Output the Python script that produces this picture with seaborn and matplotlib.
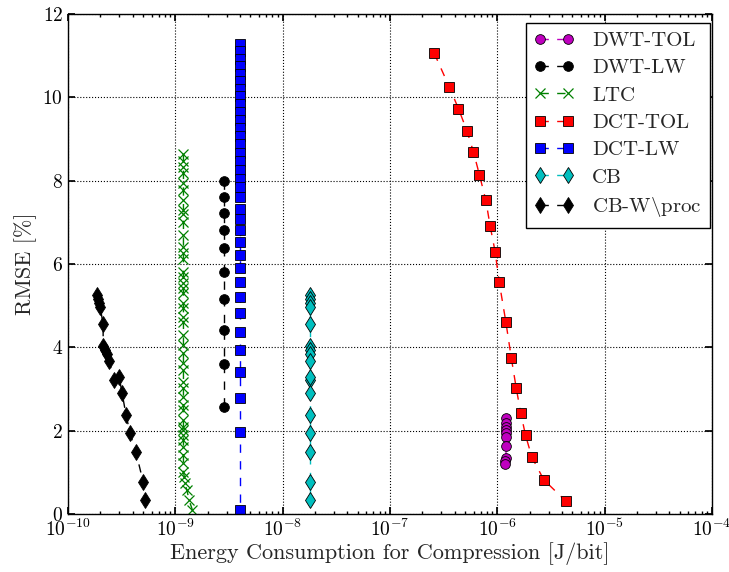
import matplotlib
matplotlib.use("Agg")
import matplotlib.pyplot as plt
import seaborn as sns
import pandas as pd

# RMSE levels shared by the CB and CB-W\proc runs
cb_rmse = [5.25, 5.15, 5.07, 4.97, 4.57, 4.03, 3.94, 3.84, 3.68, 3.22, 3.30,
           2.90, 2.38, 1.94, 1.48, 0.78, 0.34]
cb_energy = [1.78e-8] * 17
cbw_energy = [1.86e-10, 1.90e-10, 1.94e-10, 1.99e-10, 2.12e-10, 2.13e-10,
              2.21e-10, 2.31e-10, 2.41e-10, 2.68e-10, 2.99e-10, 3.19e-10,
              3.47e-10, 3.78e-10, 4.30e-10, 5.00e-10, 5.22e-10]

ltc_rmse = [8.64, 8.48, 8.33, 8.18, 7.94, 7.78, 7.54, 7.30, 7.20, 7.02, 6.70,
            6.42, 6.26, 6.11, 5.82, 5.70, 5.54, 5.42, 5.30, 5.06, 4.94, 4.74,
            4.62, 4.30, 4.06, 3.86, 3.62, 3.46, 3.18, 3.02, 2.82, 2.62, 2.50,
            2.26, 2.10, 2.02, 1.90, 1.78, 1.62, 1.42, 1.22, 1.02, 0.90, 0.74,
            0.58, 0.34, 0.10]
ltc_energy = [1.19e-9] * 42 + [1.21e-9, 1.22e-9, 1.28e-9, 1.34e-9, 1.44e-9]

dwt_lw_rmse = [8.00, 7.61, 7.23, 6.82, 6.38, 5.81, 5.15, 4.42, 3.60, 2.57]
dwt_lw_energy = [2.84e-9] * 10

dct_lw_rmse = [11.29, 11.11, 10.93, 10.75, 10.57, 10.39, 10.21, 10.03, 9.84,
               9.65, 9.46, 9.26, 9.07, 8.87, 8.66, 8.47, 8.26, 8.05, 7.84,
               7.60, 7.33, 7.07, 6.82, 6.53, 6.22, 5.90, 5.57, 5.21, 4.82,
               4.38, 3.94, 3.42, 2.78, 1.98, 0.10]
dct_lw_energy = [4.0e-9] * 35

dct_tol_rmse = [11.06, 10.24, 9.73, 9.20, 8.69, 8.14, 7.53, 6.91, 6.30, 5.57,
                4.61, 3.74, 3.02, 2.43, 1.89, 1.36, 0.82, 0.30]
dct_tol_energy = [2.58e-7, 3.58e-7, 4.34e-7, 5.20e-7, 5.99e-7, 6.81e-7,
                  7.81e-7, 8.57e-7, 9.53e-7, 1.04e-6, 1.20e-6, 1.35e-6,
                  1.50e-6, 1.65e-6, 1.83e-6, 2.10e-6, 2.71e-6, 4.38e-6]

dwt_tol_rmse = [2.30, 2.18, 2.10, 2.02, 1.94, 1.86, 1.64, 1.35, 1.27, 1.19]
dwt_tol_energy = [1.21e-6, 1.21e-6, 1.21e-6, 1.21e-6, 1.21e-6, 1.21e-6,
                  1.21e-6, 1.20e-6, 1.19e-6, 1.19e-6]

MAGENTA = (0.75, 0.0, 0.75)
GREEN = (0.0, 0.5, 0.0)
RED = (1.0, 0.0, 0.0)
BLUE = (0.0, 0.0, 1.0)
CYAN = (0.0, 0.75, 0.75)
BLACK = (0.0, 0.0, 0.0)

sns.set_theme(style="white", color_codes=False)
plt.rcParams.update({
    "font.family": "serif",
    "font.serif": ["cmr10"],
    "mathtext.fontset": "cm",
    "axes.formatter.use_mathtext": True,
    "axes.unicode_minus": False,
    "axes.edgecolor": "black",
    "axes.linewidth": 1.0,
    "xtick.direction": "in",
    "ytick.direction": "in",
    "xtick.top": True,
    "ytick.right": True,
    "xtick.bottom": True,
    "ytick.left": True,
    "xtick.major.size": 5,
    "ytick.major.size": 5,
    "xtick.minor.size": 2.5,
    "ytick.minor.size": 2.5,
    "xtick.color": "black",
    "ytick.color": "black",
    "xtick.labelsize": 14,
    "ytick.labelsize": 14,
    "lines.dashed_pattern": (6, 6),
})

fig = plt.figure(figsize=(7.29, 5.72), dpi=100)
ax = fig.add_axes([0.0933, 0.1014, 0.8834, 0.8741])

series = [
    ("DWT-TOL", dwt_tol_energy, dwt_tol_rmse, MAGENTA,
     dict(marker="o", markersize=7, markeredgecolor="k", markeredgewidth=0.6)),
    ("DWT-LW", dwt_lw_energy, dwt_lw_rmse, BLACK,
     dict(marker="o", markersize=7, markeredgecolor="k", markeredgewidth=0.6)),
    ("LTC", ltc_energy, ltc_rmse, GREEN,
     dict(marker="x", markersize=7, markeredgecolor=GREEN, markeredgewidth=0.9)),
    ("DCT-TOL", dct_tol_energy, dct_tol_rmse, RED,
     dict(marker="s", markersize=6.5, markeredgecolor="k", markeredgewidth=0.6)),
    ("DCT-LW", dct_lw_energy, dct_lw_rmse, BLUE,
     dict(marker="s", markersize=6.5, markeredgecolor="k", markeredgewidth=0.6)),
    ("CB", cb_energy, cb_rmse, CYAN,
     dict(marker="d", markersize=8.5, markeredgecolor="k", markeredgewidth=0.6)),
    (r"CB-W$\backslash$proc", cbw_energy, cb_rmse, BLACK,
     dict(marker="d", markersize=8.5, markeredgecolor="k", markeredgewidth=0.6)),
]

for name, energy, rmse, color, style in series:
    df = pd.DataFrame({"energy": energy, "rmse": rmse})
    sns.lineplot(data=df, x="energy", y="rmse", sort=False, estimator=None,
                 ax=ax, color=color, markerfacecolor=color, linestyle="--",
                 linewidth=1.0, label=name, **style)

ax.set_xscale("log")
ax.set_xlim(1e-10, 1e-4)
ax.set_ylim(0, 12)
ax.set_yticks([0, 2, 4, 6, 8, 10, 12])
ax.grid(True, which="major", color="black", linestyle=":", linewidth=0.8)
ax.tick_params(which="both", direction="in", top=True, right=True)

ax.set_xlabel("Energy Consumption for Compression [J/bit]", fontsize=16, labelpad=1)
ax.set_ylabel("RMSE [%]", fontsize=16, labelpad=4)

leg = ax.legend(loc="upper right", bbox_to_anchor=(0.997, 0.982),
                numpoints=2, fontsize=15, frameon=True,
                fancybox=False, framealpha=1.0, edgecolor="black",
                borderpad=0.4, labelspacing=0.42, handlelength=1.95,
                handletextpad=0.85, borderaxespad=0.0)
leg.get_frame().set_linewidth(1.0)

fig.savefig("out.png", dpi=100)
